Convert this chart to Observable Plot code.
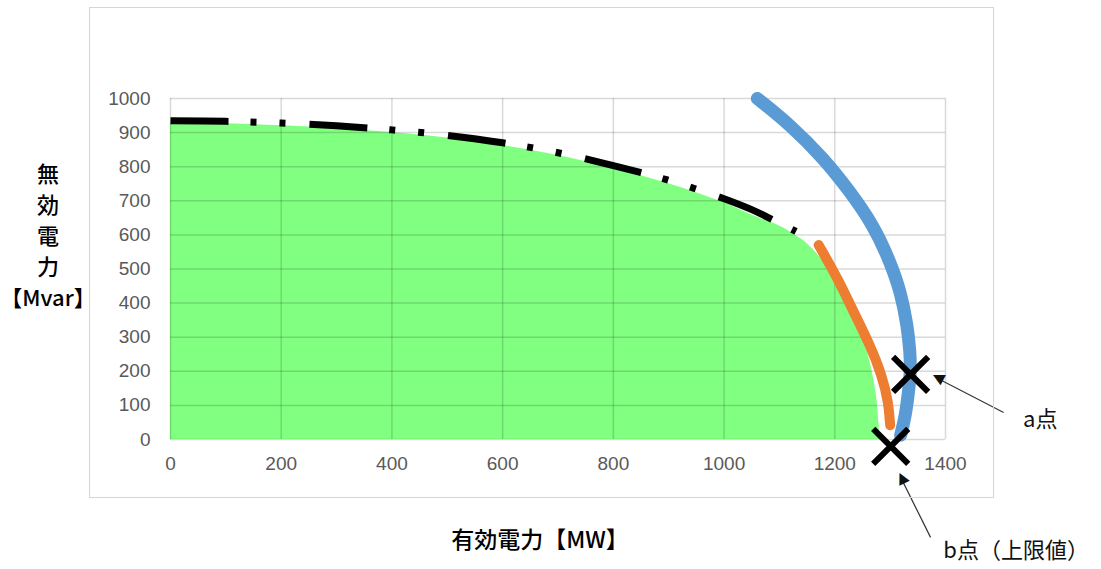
<!DOCTYPE html>
<html><head><meta charset="utf-8">
<script src="https://cdn.jsdelivr.net/npm/d3@7"></script>
<script src="https://cdn.jsdelivr.net/npm/@observablehq/plot@0.6"></script>
<style>
body{margin:0;background:#fff;}
#wrap{position:relative;width:1101px;height:569px;overflow:hidden;}
#frame{position:absolute;left:89px;top:7px;width:903px;height:489px;border:1.5px solid #d6d6d6;pointer-events:none;}
.lbl{position:absolute;font-family:"Noto Sans CJK JP",sans-serif;color:#000;white-space:nowrap;font-weight:500;}
#ylab{left:0;width:96px;top:157px;font-size:22px;line-height:31px;text-align:center;}
#xlab{left:440px;width:200px;top:522px;font-size:23px;line-height:32px;text-align:center;}
</style></head><body>
<div id="wrap"><div id="frame"></div>
<div class="lbl" id="ylab">無<br>効<br>電<br>力<br>【Mvar】</div>
<div class="lbl" id="xlab">有効電力【MW】</div>
</div>
<script>
// Ticks
const xTicks = [0,200,400,600,800,1000,1200,1400];
const yTicks = [0,100,200,300,400,500,600,700,800,900,1000];

// Green operating region (P [MW], Q [Mvar])
const greenP = [0,100,200,300,400,500,600,700,800,900,1000,1050,1100,1120,1140,1159,1180,1198,1215,1228,1242,1255,1264,1270,1276,1279,1282];
const greenQ = [928,926,920,912,900,884,862,833,795,750,694,658,626,608,587,560,520,472,420,374,325,276,225,179,120,62,0];

// Black dash-dot limit curve
const blackP = [0,100,200,300,400,500,600,700,800,900,1000,1050,1087,1130];
const blackQ = [935,933,928,920,908,892,870,841,803,760,706,674,645,610];

// Orange curve
const orangeP = [1171,1207,1234,1264,1285,1297,1300];
const orangeQ = [570,467,374,276,189,110,42];

// Blue curve
const blueP = [1060,1120,1180,1227,1270,1300,1319,1331,1336,1337,1334,1328,1319];
const blueQ = [1000,922,824,728,628,521,433,335,257,203,150,71,13];

// Points a and b
const pointNames = ["a","b"];
const pointP = [1337,1301];
const pointQ = [191,-20];

// Annotation labels
const labelText = ["a点","b点（上限値）"];
const labelP = [1540,1396];
const labelQ = [56,-326];

// Annotation arrows (from label to point)
const arrowFromP = [1505,1373];
const arrowFromQ = [79,-287];
const arrowToP = [1386,1320];
const arrowToQ = [179,-114];

const zip = (P,Q) => P.map((p,i)=>({p, q:Q[i]}));
const green = zip(greenP, greenQ);
const black = zip(blackP, blackQ);
const orange = zip(orangeP, orangeQ);
const blue = zip(blueP, blueQ);
const pts = zip(pointP, pointQ);
const arrows = arrowFromP.map((p,i)=>({x1:p, y1:arrowFromQ[i], x2:arrowToP[i], y2:arrowToQ[i]}));

const plot = Plot.plot({
  width:1101, height:569,
  marginLeft:170, marginRight:156, marginTop:98, marginBottom:130,
  style:{background:"transparent", fontFamily:"'Liberation Sans', Arial, sans-serif", fontSize:"19px", color:"#595959", overflow:"visible"},
  x:{domain:[0,1400], ticks:xTicks, tickSize:0, tickPadding:17, label:null, tickFormat:d=>String(d)},
  y:{domain:[0,1000], ticks:yTicks, tickSize:0, tickPadding:20, label:null, tickFormat:d=>String(d)},
  marks:[
    Plot.areaY(green, {x:"p", y:"q", fill:"#80ff80", curve:"catmull-rom"}),
    Plot.ruleY(yTicks, {stroke:"#000", strokeOpacity:0.15, strokeWidth:1.5}),
    Plot.ruleX(xTicks, {stroke:"#000", strokeOpacity:0.15, strokeWidth:1.5}),
    Plot.line(black, {x:"p", y:"q", stroke:"#000", strokeWidth:7, strokeDasharray:"58,22,6,23,6,24", strokeLinecap:"butt", curve:"catmull-rom"}),
    Plot.line(orange, {x:"p", y:"q", stroke:"#ed7d31", strokeWidth:10, strokeLinecap:"round", curve:"basis"}),
    Plot.line(blue, {x:"p", y:"q", stroke:"#5b9bd5", strokeWidth:13, strokeLinecap:"round", curve:"basis"}),
    Plot.dot(pts, {x:"p", y:"q", symbol:"times", r:16, stroke:"#000", strokeWidth:6}),
    Plot.link(arrows, {x1:"x1", y1:"y1", x2:"x2", y2:"y2", stroke:"#333", strokeWidth:1.2}),
    Plot.text([arrows[0]], {x:"x2", y:"y2", text:()=>"▶", rotate:-152.5, fontSize:15, fill:"#111", fontFamily:"DejaVu Sans"}),
    Plot.text([arrows[1]], {x:"x2", y:"y2", text:()=>"▶", rotate:-116, fontSize:15, fill:"#111", fontFamily:"DejaVu Sans"}),
    Plot.text(labelText.map((t,i)=>({t, p:labelP[i], q:labelQ[i]})), {x:"p", y:"q", text:"t", textAnchor:"start", fontSize:22, fill:"#111", fontFamily:"'Noto Sans CJK JP', sans-serif"})
  ]
});
document.getElementById("wrap").prepend(plot);
plot.style.position="absolute"; plot.style.left="0"; plot.style.top="0";
</script>
</body></html>
